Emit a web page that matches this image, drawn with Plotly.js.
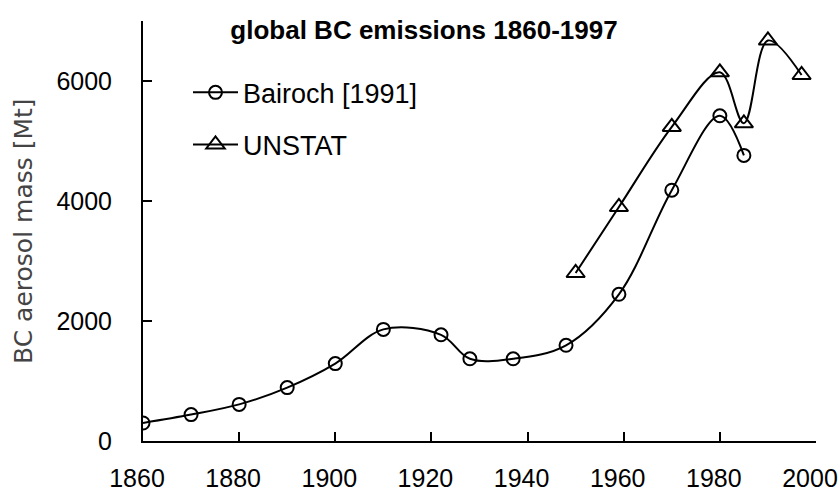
<!DOCTYPE html>
<html>
<head>
<meta charset="utf-8">
<script src="https://cdn.plot.ly/plotly-3.0.1.min.js"></script>
<style>html,body{margin:0;padding:0;background:#fff;}#chart{width:838px;height:491px;}</style>
</head>
<body>
<div id="chart"></div>
<script>
// Data
const bairochYears = [1860, 1870, 1880, 1890, 1900, 1910, 1922, 1928, 1937, 1948, 1959, 1970, 1980, 1985];
const bairochValues = [300, 440, 610, 890, 1290, 1860, 1770, 1370, 1370, 1595, 2445, 4180, 5420, 4760];
const unstatYears = [1950, 1959, 1970, 1980, 1985, 1990, 1997];
const unstatValues = [2800, 3900, 5235, 6145, 5295, 6675, 6100];
const xTicks = [1860, 1880, 1900, 1920, 1940, 1960, 1980, 2000];
const yTicks = [0, 2000, 4000, 6000];
const titleText = 'global BC emissions 1860-1997';
const yTitleText = 'BC aerosol mass [Mt]';
const seriesNames = ['Bairoch [1991]', 'UNSTAT'];

const FONT = 'Arial, "Liberation Sans", sans-serif';

const traces = [
  {
    x: bairochYears, y: bairochValues, name: seriesNames[0], legendgroup: 'a',
    mode: 'lines+markers', type: 'scatter',
    line: {color: '#000', width: 2, shape: 'spline', smoothing: 1},
    marker: {symbol: 'circle-open', size: 13, color: '#000', line: {width: 2, color: '#000'}}
  },
  {
    x: unstatYears, y: unstatValues, name: seriesNames[1], legendgroup: 'b',
    mode: 'lines+markers', type: 'scatter',
    line: {color: '#000', width: 2, shape: 'spline', smoothing: 1},
    marker: {symbol: 'triangle-up-open', size: 16, color: '#000', line: {width: 2, color: '#000'}}
  }
];

const layout = {
  width: 838, height: 491,
  margin: {l: 143, r: 22, t: 21, b: 50, pad: 0},
  paper_bgcolor: '#fff', plot_bgcolor: '#fff',
  font: {family: FONT, size: 25, color: '#000'},
  title: {
    text: '<b>' + titleText + '</b>',
    font: {family: FONT, size: 26, color: '#000'},
    xref: 'container', yref: 'container',
    x: 424 / 838, xanchor: 'center',
    y: 1 - 30 / 491, yanchor: 'middle'
  },
  showlegend: true,
  legend: {
    x: (188 - 143) / 673, xanchor: 'left',
    y: (440.7 - 68) / 420, yanchor: 'top',
    bgcolor: 'rgba(0,0,0,0)', borderwidth: 0,
    font: {family: FONT, size: 27, color: '#000'},
    itemwidth: 45, tracegroupgap: 14, traceorder: 'grouped',
    itemsizing: 'trace'
  },
  xaxis: {
    range: [1860, 2000], tickvals: xTicks, ticktext: xTicks.map(String),
    showgrid: false, zeroline: false,
    showline: true, linecolor: '#000', linewidth: 2,
    ticks: 'inside', ticklen: 9, tickwidth: 2, tickcolor: '#000',
    ticklabelstandoff: 14, ticklabelshift: -6,
    tickfont: {family: FONT, size: 25, color: '#000'}
  },
  yaxis: {
    range: [0, 7000], tickvals: yTicks, ticktext: yTicks.map(String),
    showgrid: false, zeroline: false,
    showline: true, linecolor: '#000', linewidth: 2,
    ticks: 'inside', ticklen: 9, tickwidth: 2, tickcolor: '#000',
    ticklabelstandoff: 24,
    tickfont: {family: FONT, size: 25, color: '#000'}
  },
  annotations: [
    {
      text: yTitleText, textangle: -90,
      xref: 'paper', yref: 'paper',
      x: (23 - 143) / 673, y: 0.5, xanchor: 'center', yanchor: 'middle',
      showarrow: false,
      font: {family: '"DejaVu Sans", sans-serif', size: 25, color: '#444'}
    }
  ]
};

Plotly.newPlot('chart', traces, layout, {staticPlot: true, displayModeBar: false});
</script>
</body>
</html>
